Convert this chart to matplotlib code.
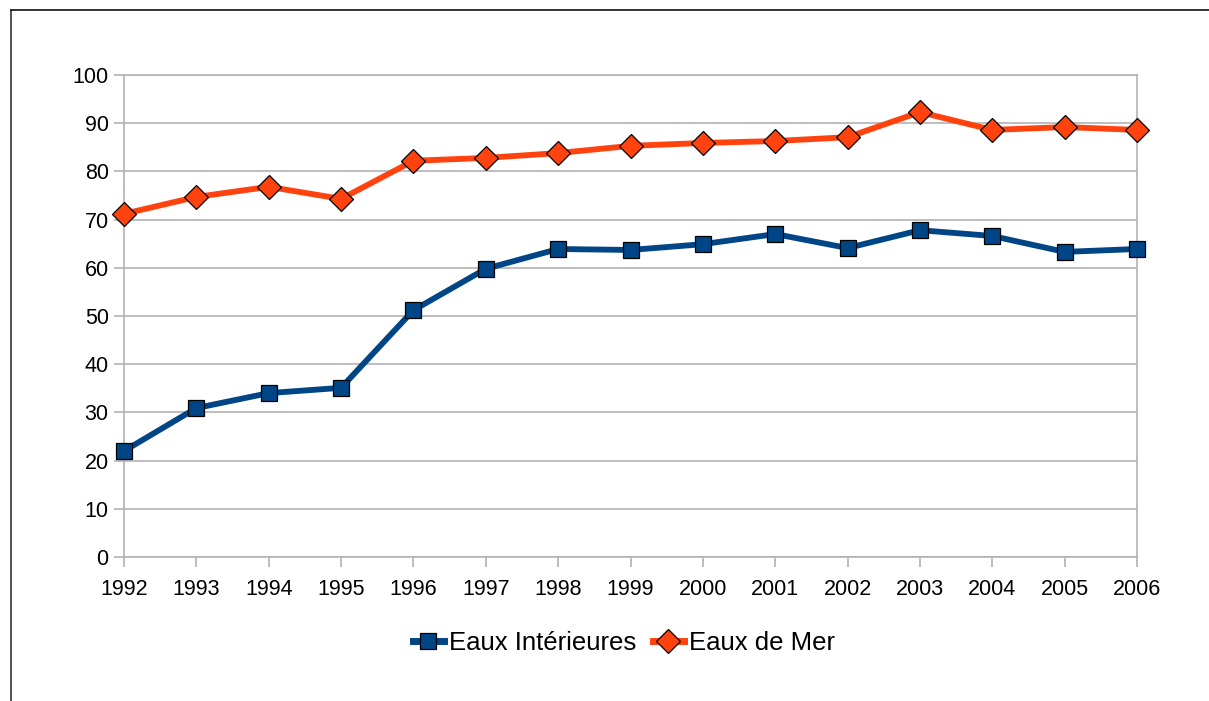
import matplotlib
matplotlib.use('Agg')
import matplotlib.pyplot as plt
from matplotlib.lines import Line2D

# data
years = [1992, 1993, 1994, 1995, 1996, 1997, 1998, 1999, 2000, 2001, 2002, 2003, 2004, 2005, 2006]
eaux_interieures = [22.0, 30.9, 34.0, 35.1, 51.2, 59.8, 63.9, 63.7, 64.9, 67.0, 64.1, 67.8, 66.6, 63.3, 63.9]
eaux_de_mer = [71.2, 74.7, 76.8, 74.3, 82.2, 82.8, 83.8, 85.3, 85.9, 86.3, 87.1, 92.3, 88.6, 89.2, 88.6]
y_ticks = [0, 10, 20, 30, 40, 50, 60, 70, 80, 90, 100]

plt.rcParams['font.family'] = ['Liberation Sans', 'DejaVu Sans']

blue = '#004586'
orange = '#ff420e'
grid_col = '#b3b3b3'

fig = plt.figure(figsize=(12.09, 7.01), dpi=100)
ax = fig.add_axes([124 / 1209, 1 - 557 / 701, (1137 - 124) / 1209, (557 - 75) / 701])

ax.plot(years, eaux_interieures, color=blue, lw=4.2, marker='s', markersize=12,
        markerfacecolor=blue, markeredgecolor='black', markeredgewidth=0.9,
        label='Eaux Intérieures', zorder=3)
ax.plot(years, eaux_de_mer, color=orange, lw=4.2, marker='D', markersize=12.5,
        markerfacecolor=orange, markeredgecolor='black', markeredgewidth=0.9,
        label='Eaux de Mer', zorder=3)

ax.set_xlim(years[0], years[-1])
ax.set_ylim(0, 100)
ax.set_xticks(years)
ax.set_yticks(y_ticks)
ax.tick_params(axis='both', labelsize=15.5, colors=grid_col, labelcolor='black',
               length=7, width=1.2)
ax.tick_params(axis='x', pad=9)
ax.tick_params(axis='y', pad=4)
ax.grid(True, axis='y', color=grid_col, lw=1.2)
for s in ax.spines.values():
    s.set_color(grid_col)
    s.set_linewidth(1.2)
for art in ax.lines:
    art.set_clip_on(False)

handles = [
    Line2D([], [], color=blue, lw=5, marker='s', markersize=12, markerfacecolor=blue,
           markeredgecolor='black', markeredgewidth=0.9),
    Line2D([], [], color=orange, lw=5, marker='D', markersize=12.5, markerfacecolor=orange,
           markeredgecolor='black', markeredgewidth=0.9),
]
fig.legend(handles, ['Eaux Intérieures', 'Eaux de Mer'], loc='center',
           bbox_to_anchor=(624 / 1209, 1 - 643 / 701), ncol=2, frameon=False,
           fontsize=18.5, handlelength=1.2, handletextpad=0.2, columnspacing=0.65)

# outer frame (top and left edges visible in the reference)
fig.add_artist(Line2D([11 / 1209, 11 / 1209], [0, 1 - 10 / 701], transform=fig.transFigure,
                      color='#333333', lw=1.2))
fig.add_artist(Line2D([11 / 1209, 1], [1 - 10 / 701, 1 - 10 / 701], transform=fig.transFigure,
                      color='#111111', lw=1.2))

fig.savefig('out.png', dpi=100)
